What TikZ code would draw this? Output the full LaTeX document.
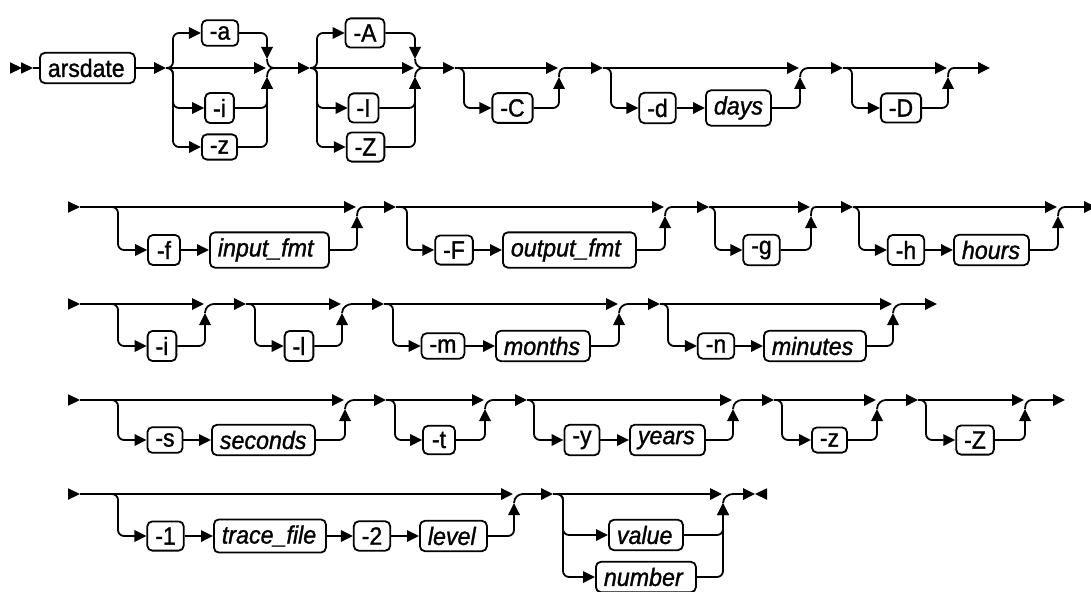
\documentclass[tikz,border=0pt]{standalone}
\usepackage{fontspec}
\setmainfont{Liberation Sans}[FakeStretch=0.92,FakeBold=1.2]
\newfontfamily\varfont{Liberation Sans}[FakeStretch=0.93,FakeBold=1.2]
\usetikzlibrary{arrows.meta,calc}
\tikzset{
 ln/.style={line width=1.8pt},
 arr/.style={ln,-{Triangle[length=12pt,width=11.5pt]}},
 bx/.style={draw, line width=1.8pt, rounded corners=5pt, inner xsep=8pt, inner ysep=6pt},
 flagbox/.style={bx, align=center, font=\fontsize{25}{29}\selectfont},
 varbox/.style={bx, align=left, font=\fontsize{25}{29}\selectfont\varfont\itshape},
 cmdbox/.style={bx, align=left, font=\fontsize{25}{29}\selectfont},
}
\newcommand\flg[5]{\node[flagbox, minimum width=#3-#2] (#1) at ({(#2+#3)/2},#4) {#5};}
\newcommand\varbx[5]{\pgfmathsetmacro\tw{#3-#2-16}\node[varbox, text width=\tw pt, anchor=west] (#1) at (#2,#4) {#5};}
\newcommand\optgrp[6]{%
 \coordinate (s#1) at (#3,#2);
 \coordinate (v#1) at (#4,#2);
 \coordinate (m#1) at (#5-1,#2);
 \coordinate (u#1) at (#5,#2+9);
 \coordinate (d#1) at (#5,#2-9);
 \coordinate (j#1) at (#6,#2);
 \draw[arr] (s#1) -- (m#1);
}
\newcommand\brin[2]{\draw[arr, rounded corners=6pt] (s#1) -- (v#1) |- (#2.west);}
\newcommand\retu[2]{\draw[arr, rounded corners=6pt] (#2.east) -| (u#1);}
\newcommand\retd[2]{\draw[arr, rounded corners=6pt] (#2.east) -| (d#1);}
\newcommand\jnu[1]{\draw[ln] (u#1) .. controls ($(u#1)+(0,-6)$) and ($(j#1)+(-4,0)$) .. (j#1);}
\newcommand\jnd[1]{\draw[ln] (d#1) .. controls ($(d#1)+(0,6)$) and ($(j#1)+(-4,0)$) .. (j#1);}
\newcommand\chain[2]{\draw[arr] (#1.east) -- (#2.west);}
\newcommand\rowstart[2]{\fill (#1,#2) -- (#1-12,#2-5.75) -- (#1-12,#2+5.75) -- cycle;}
\begin{document}
\begin{tikzpicture}[x=1pt,y=-1pt]
\useasboundingbox (0,0) rectangle (1091,591);
% ---------------- Row 1
\rowstart{22}{68}
\rowstart{33}{68}
\coordinate (st1) at (33,68);
\node[cmdbox, text width=79pt, anchor=west] (arsdate) at (39,68) {arsdate};
\draw[ln] (st1) -- (arsdate.west);
% group -a -i -z
\optgrp{11}{68}{166}{173}{267}{274}
\draw[arr] (arsdate.east) -- (s11);
\flg{a1}{203}{237}{33}{-a}
\flg{i1}{209}{230}{108}{-i}
\flg{z1}{203}{236}{147}{-z}
\brin{11}{a1}\brin{11}{i1}\brin{11}{z1}
\retd{11}{a1}\retu{11}{i1}\retu{11}{z1}
\jnd{11}\jnu{11}
% group -A -I -Z
\optgrp{12}{68}{310}{317}{415}{423}
\draw[arr] (j11) -- (s12);
\flg{A1}{347}{383}{33}{-A}
\flg{I1}{352}{375}{108}{-I}
\flg{Z1}{348}{383}{147}{-Z}
\brin{12}{A1}\brin{12}{I1}\brin{12}{Z1}
\retd{12}{A1}\retu{12}{I1}\retu{12}{Z1}
\jnd{12}\jnu{12}
% group -C
\optgrp{13}{68}{455}{464}{559}{565}
\draw[arr] (j12) -- (s13);
\flg{C1}{494}{531}{108}{-C}
\brin{13}{C1}\retu{13}{C1}\jnu{13}
% group -d days
\optgrp{14}{68}{603}{611}{800}{808}
\draw[arr] (j13) -- (s14);
\flg{d1}{640}{675}{108}{-d}
\varbx{days}{705}{770}{108}{days}
\brin{14}{d1}\chain{d1}{days}\retu{14}{days}\jnu{14}
% group -D
\optgrp{15}{68}{843}{852}{948}{954}
\draw[arr] (j14) -- (s15);
\flg{D1}{882}{920}{108}{-D}
\brin{15}{D1}\retu{15}{D1}\jnu{15}
\coordinate (e1) at (990,68);
\draw[arr] (j15) -- (e1);
% ---------------- Row 2
\rowstart{80}{207}
\optgrp{21}{207}{80}{118}{357}{364}
\flg{f2}{148}{180}{250}{-f}
\varbx{inf}{209}{328}{250}{input\_fmt}
\brin{21}{f2}\chain{f2}{inf}\retu{21}{inf}\jnu{21}
\optgrp{22}{207}{396}{407}{665}{672}
\draw[arr] (j21) -- (s22);
\flg{F2}{437}{471}{250}{-F}
\varbx{outf}{502}{635}{250}{output\_fmt}
\brin{22}{F2}\chain{F2}{outf}\retu{22}{outf}\jnu{22}
\optgrp{23}{207}{709}{715}{811}{816}
\draw[arr] (j22) -- (s23);
\flg{g2}{744}{779}{250}{-g}
\brin{23}{g2}\retu{23}{g2}\jnu{23}
\optgrp{24}{207}{853}{859}{1058}{1065}
\draw[arr] (j23) -- (s24);
\flg{h2}{889}{923}{250}{-h}
\varbx{hrs}{953}{1028}{250}{hours}
\brin{24}{h2}\chain{h2}{hrs}\retu{24}{hrs}\jnu{24}
\coordinate (e2) at (1096,207);
\draw[arr] (j24) -- (e2);
% ---------------- Row 3
\rowstart{80}{304}
\optgrp{31}{304}{80}{118}{205}{214}
\flg{i3}{148}{176}{346}{-i}
\brin{31}{i3}\retu{31}{i3}\jnu{31}
\optgrp{32}{304}{246}{255}{342}{352}
\draw[arr] (j31) -- (s32);
\flg{l3}{286}{312}{346}{-l}
\brin{32}{l3}\retu{32}{l3}\jnu{32}
\optgrp{33}{304}{384}{393}{619}{628}
\draw[arr] (j32) -- (s33);
\flg{m3}{422}{464}{346}{-m}
\varbx{mon}{495}{589}{346}{months}
\brin{33}{m3}\chain{m3}{mon}\retu{33}{mon}\jnu{33}
\optgrp{34}{304}{660}{668}{893}{902}
\draw[arr] (j33) -- (s34);
\flg{n3}{699}{733}{346}{-n}
\varbx{minu}{763}{865}{346}{minutes}
\brin{34}{n3}\chain{n3}{minu}\retu{34}{minu}\jnu{34}
\coordinate (e3) at (937,304);
\draw[arr] (j34) -- (e3);
% ---------------- Row 4
\rowstart{80}{400}
\optgrp{41}{400}{80}{118}{345}{354}
\flg{s4}{148}{182}{440}{-s}
\varbx{sec}{211}{314}{440}{seconds}
\brin{41}{s4}\chain{s4}{sec}\retu{41}{sec}\jnu{41}
\optgrp{42}{400}{386}{395}{485}{493}
\draw[arr] (j41) -- (s42);
\flg{t4}{423}{455}{440}{-t}
\brin{42}{t4}\retu{42}{t4}\jnu{42}
\optgrp{43}{400}{527}{534}{733}{742}
\draw[arr] (j42) -- (s43);
\flg{y4}{565}{599}{440}{-y}
\varbx{yrs}{629}{704}{440}{years}
\brin{43}{y4}\chain{y4}{yrs}\retu{43}{yrs}\jnu{43}
\optgrp{44}{400}{774}{782}{877}{886}
\draw[arr] (j43) -- (s44);
\flg{z4}{813}{846}{440}{-z}
\brin{44}{z4}\retu{44}{z4}\jnu{44}
\optgrp{45}{400}{918}{926}{1025}{1032}
\draw[arr] (j44) -- (s45);
\flg{Z4}{957}{993}{440}{-Z}
\brin{45}{Z4}\retu{45}{Z4}\jnu{45}
\coordinate (e4) at (1065,400);
\draw[arr] (j45) -- (e4);
% ---------------- Row 5
\rowstart{80}{494}
\optgrp{51}{494}{80}{118}{514}{523}
\flg{one}{148}{183}{536}{-1}
\varbx{trc}{213}{325}{536}{trace\_file}
\flg{two}{355}{389}{536}{-2}
\varbx{lvl}{419}{486}{536}{level}
\brin{51}{one}\chain{one}{trc}\chain{trc}{two}\chain{two}{lvl}\retu{51}{lvl}\jnu{51}
\optgrp{52}{494}{553}{563}{723}{733}
\draw[arr] (j51) -- (s52);
\varbx{val}{608}{682}{535}{value}
\varbx{num}{595}{695}{577}{number}
\brin{52}{val}\brin{52}{num}\retu{52}{val}\retu{52}{num}\jnu{52}
\coordinate (e5) at (755,494);
\draw[arr] (j52) -- (e5);
\fill (e5) -- (767,488.25) -- (767,499.75) -- cycle;
\end{tikzpicture}
\end{document}
